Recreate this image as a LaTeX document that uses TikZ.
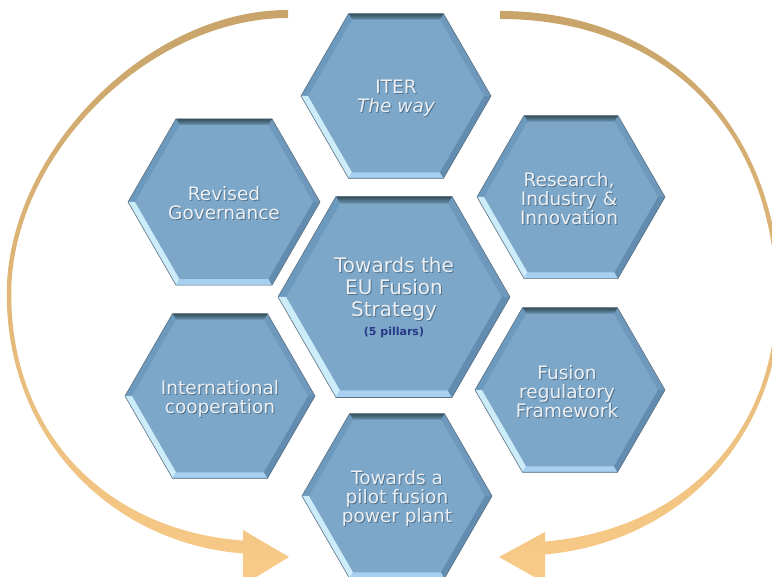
\documentclass[tikz,border=0pt]{standalone}
\usepackage{fontspec}
\setmainfont{DejaVu Sans}
\definecolor{hexfill}{RGB}{124,167,201}
\definecolor{bevTopA}{RGB}{52,76,88}
\definecolor{bevTopB}{RGB}{108,148,180}
\definecolor{bevUL}{RGB}{108,153,190}
\definecolor{bevLL}{RGB}{205,236,250}
\definecolor{bevB}{RGB}{168,208,240}
\definecolor{bevLR}{RGB}{98,140,176}
\definecolor{bevUR}{RGB}{110,153,188}
\definecolor{hexline}{RGB}{95,115,130}
\definecolor{txtmain}{RGB}{236,240,244}
\definecolor{txtshadow}{RGB}{55,80,100}
\definecolor{pillar}{RGB}{40,55,135}
\definecolor{arcTop}{RGB}{200,164,106}
\definecolor{arcMid}{RGB}{242,205,146}
\definecolor{arcBot}{RGB}{250,203,136}
\tikzset{
  txt/.style={inner sep=0pt, align=center, text=txtmain, font=\fontsize{18.5}{19}\selectfont},
  bigtxt/.style={font=\fontsize{20}{22}\selectfont},
  shd/.style={txt, text=txtshadow, opacity=0.6},
  arcshade/.style={top color=arcTop, middle color=arcMid, bottom color=arcBot},
  hexedge/.style={draw=hexline, line width=0.6pt, line join=miter},
}
\newcommand\hexcell[4]{%
\begin{scope}[shift={#1}]
 \pgfmathsetmacro\hexR{#2}
 \pgfmathsetmacro\hexr{#2-#3*1.1547}
 \fill[hexfill] (0:\hexR) -- (60:\hexR) -- (120:\hexR) -- (180:\hexR) -- (240:\hexR) -- (300:\hexR) -- cycle;
 \fill[bevUR] (0:\hexR) -- (60:\hexR) -- (60:\hexr) -- (0:\hexr) -- cycle;
 \shade[top color=bevTopA, bottom color=bevTopB] (60:\hexR) -- (120:\hexR) -- (120:\hexr) -- (60:\hexr) -- cycle;
 \fill[bevUL] (120:\hexR) -- (180:\hexR) -- (180:\hexr) -- (120:\hexr) -- cycle;
 \fill[bevLL] (180:\hexR) -- (240:\hexR) -- (240:\hexr) -- (180:\hexr) -- cycle;
 \fill[bevB] (240:\hexR) -- (300:\hexR) -- (300:\hexr) -- (240:\hexr) -- cycle;
 \fill[bevLR] (300:\hexR) -- (0:\hexR) -- (0:\hexr) -- (300:\hexr) -- cycle;
 \path[hexedge] (0:\hexR) -- (60:\hexR) -- (120:\hexR) -- (180:\hexR) -- (240:\hexR) -- (300:\hexR) -- cycle;
 \node[inner sep=0pt] (#4) at (0,0) {};
\end{scope}}
\newcommand\hexlabel[5][]{%
\node[shd,#1] (#2-s) at (#3+1,#4-1) {#5};
\node[txt,#1] (#2) at (#3,#4) {#5};}
\begin{document}
\begin{tikzpicture}[x=1pt,y=1pt]
\clip (0,0) rectangle (772,577);
\fill[white] (0,0) rectangle (772,577);
% left cycle arrow
\shade[arcshade] (288,567) .. controls (146,567) and (6.75,423) .. (6.75,283)
  .. controls (6.75,140) and (110,34) .. (243,23.5)
  -- (243,-8) -- (289,20) -- (243,47) -- (243,36.5)
  .. controls (110,46) and (11.25,140) .. (11.25,283)
  .. controls (11.25,423) and (150,559) .. (288,559) -- cycle;
% right cycle arrow
\shade[arcshade] (500,566) .. controls (667,566) and (780.25,448) .. (780.25,277)
  .. controls (780.25,150) and (690,36) .. (545,22.5)
  -- (545,-6) -- (499,20) -- (545,45) -- (545,35.5)
  .. controls (690,48) and (775.75,150) .. (775.75,277)
  .. controls (775.75,448) and (665,558) .. (500,558) -- cycle;
% hexagons
\hexcell{(396,481)}{95}{6}{hITER}
\hexcell{(224,375)}{96}{6}{hGov}
\hexcell{(571,380)}{94}{6}{hRes}
\hexcell{(394,280)}{116}{7}{hCore}
\hexcell{(220,181)}{95}{6}{hInt}
\hexcell{(570,187)}{95}{6}{hReg}
\hexcell{(397,81)}{95}{6}{hPilot}
% labels
\hexlabel{tITER}{396}{479}{ITER\\\itshape The way}
\hexlabel{tGov}{224}{374}{Revised\\Governance}
\hexlabel{tRes}{569}{378}{Research,\\Industry \&\\Innovation}
\hexlabel[bigtxt]{tCore}{394}{288}{Towards the\\EU Fusion\\Strategy}
\node[inner sep=0pt, text=pillar, font=\fontsize{11}{12}\selectfont\bfseries] (tPillars) at (394,245) {(5 pillars)};
\hexlabel{tInt}{220}{178}{International\\cooperation}
\hexlabel{tReg}{567}{185}{Fusion\\regulatory\\Framework}
\hexlabel{tPilot}{397}{79}{Towards a\\pilot fusion\\power plant}
\end{tikzpicture}
\end{document}
